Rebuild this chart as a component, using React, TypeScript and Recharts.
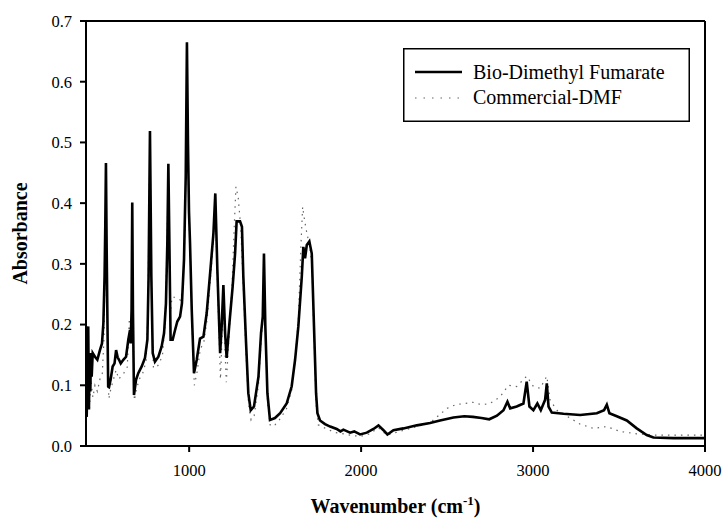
import { LineChart, Line, XAxis, YAxis, Legend, ReferenceLine } from "recharts";

// FTIR spectra
const bioWavenumber = [
  404, 409, 413, 417, 421, 425, 429, 433, 439, 452, 466, 481, 493, 501, 508, 512, 516, 520, 524, 529,
  534, 543, 555, 566, 575, 584, 592, 602, 617, 633, 646, 656, 660, 665, 669, 673, 679, 691, 704, 724,
  743, 757, 764, 768, 772, 776, 780, 788, 801, 821, 840, 854, 865, 873, 879, 885, 892, 904, 918, 931,
  947, 958, 970, 980, 987, 993, 999, 1005, 1015, 1028, 1044, 1063, 1083, 1102, 1125, 1141, 1152, 1164, 1180, 1189,
  1199, 1209, 1218, 1234, 1253, 1267, 1276, 1296, 1307, 1315, 1331, 1344, 1358, 1377, 1403, 1418, 1428, 1435, 1443, 1455,
  1470, 1499, 1529, 1567, 1596, 1616, 1635, 1655, 1664, 1674, 1684, 1699, 1713, 1726, 1738, 1746, 1761, 1790, 1820, 1858,
  1880, 1897, 1936, 1960, 1994, 2033, 2072, 2101, 2130, 2153, 2188, 2246, 2324, 2401, 2459, 2537, 2600, 2650, 2700, 2745,
  2790, 2828, 2851, 2867, 2905, 2944, 2963, 2979, 3002, 3025, 3045, 3070, 3080, 3090, 3109, 3177, 3274, 3371, 3413, 3429,
  3444, 3487, 3545, 3603, 3661, 3700, 3817, 3900, 4000,
];
const bioAbsorbance = [
  0.048, 0.12, 0.197, 0.06, 0.15, 0.09, 0.153, 0.114, 0.153, 0.147, 0.142, 0.158, 0.169, 0.202, 0.279, 0.36, 0.466, 0.33, 0.224, 0.098,
  0.097, 0.109, 0.131, 0.136, 0.158, 0.146, 0.142, 0.136, 0.142, 0.147, 0.175, 0.191, 0.169, 0.224, 0.401, 0.224, 0.084, 0.109, 0.12, 0.131,
  0.145, 0.175, 0.279, 0.4, 0.519, 0.4, 0.279, 0.153, 0.139, 0.147, 0.164, 0.186, 0.235, 0.334, 0.465, 0.334, 0.175, 0.175, 0.191, 0.205,
  0.213, 0.235, 0.307, 0.444, 0.665, 0.5, 0.386, 0.334, 0.224, 0.12, 0.142, 0.177, 0.18, 0.219, 0.295, 0.35, 0.416, 0.29, 0.153, 0.197,
  0.265, 0.186, 0.145, 0.202, 0.263, 0.317, 0.37, 0.37, 0.361, 0.279, 0.169, 0.087, 0.059, 0.065, 0.114, 0.186, 0.213, 0.317, 0.197, 0.087,
  0.043, 0.046, 0.054, 0.07, 0.098, 0.142, 0.197, 0.279, 0.328, 0.309, 0.331, 0.337, 0.317, 0.197, 0.087, 0.054, 0.042, 0.036, 0.032, 0.028,
  0.024, 0.027, 0.022, 0.024, 0.019, 0.022, 0.028, 0.034, 0.026, 0.019, 0.026, 0.029, 0.034, 0.038, 0.042, 0.047, 0.049, 0.048, 0.046, 0.044,
  0.05, 0.059, 0.073, 0.062, 0.065, 0.07, 0.106, 0.065, 0.059, 0.07, 0.059, 0.076, 0.103, 0.065, 0.055, 0.053, 0.051, 0.054, 0.059, 0.068,
  0.054, 0.049, 0.042, 0.029, 0.018, 0.014, 0.013, 0.013, 0.013,
];

const dmfWavenumber = [
  404, 410, 415, 420, 428, 440, 452, 466, 481, 495, 505, 512, 516, 521, 527, 533, 545, 560, 575, 590,
  605, 620, 640, 652, 660, 665, 669, 674, 681, 695, 710, 730, 750, 760, 766, 772, 777, 783, 792, 805,
  825, 845, 860, 870, 879, 885, 892, 900, 915, 935, 950, 962, 972, 980, 987, 993, 1000, 1008, 1018, 1030,
  1045, 1065, 1085, 1105, 1125, 1141, 1152, 1164, 1182, 1190, 1199, 1208, 1216, 1234, 1250, 1262, 1272, 1285, 1300, 1315,
  1331, 1345, 1360, 1378, 1403, 1420, 1430, 1436, 1444, 1456, 1472, 1500, 1530, 1567, 1596, 1616, 1635, 1650, 1660, 1672,
  1685, 1700, 1714, 1726, 1738, 1750, 1800, 1850, 1900, 1950, 2000, 2050, 2100, 2150, 2200, 2300, 2400, 2450, 2500, 2550,
  2600, 2650, 2700, 2750, 2808, 2857, 2905, 2963, 3002, 3041, 3080, 3099, 3138, 3215, 3274, 3351, 3429, 3506, 3603, 3700,
  3855, 4000,
];
const dmfAbsorbance = [
  0.06, 0.1, 0.15, 0.06, 0.11, 0.08, 0.1, 0.09, 0.11, 0.12, 0.18, 0.33, 0.44, 0.3, 0.12, 0.078, 0.095, 0.11, 0.125, 0.11,
  0.115, 0.12, 0.13, 0.21, 0.17, 0.21, 0.37, 0.2, 0.075, 0.095, 0.11, 0.12, 0.14, 0.22, 0.38, 0.5, 0.38, 0.22, 0.13, 0.128,
  0.135, 0.15, 0.2, 0.32, 0.45, 0.32, 0.22, 0.245, 0.245, 0.243, 0.24, 0.26, 0.32, 0.44, 0.64, 0.48, 0.37, 0.3, 0.19, 0.1,
  0.12, 0.16, 0.17, 0.21, 0.28, 0.34, 0.4, 0.27, 0.11, 0.17, 0.25, 0.16, 0.105, 0.19, 0.27, 0.36, 0.427, 0.41, 0.36, 0.26,
  0.15, 0.07, 0.043, 0.05, 0.1, 0.18, 0.21, 0.31, 0.18, 0.07, 0.033, 0.035, 0.045, 0.062, 0.092, 0.14, 0.21, 0.33, 0.394, 0.37,
  0.35, 0.33, 0.3, 0.18, 0.07, 0.035, 0.028, 0.022, 0.02, 0.017, 0.016, 0.02, 0.03, 0.018, 0.022, 0.03, 0.038, 0.05, 0.062, 0.068,
  0.07, 0.072, 0.068, 0.07, 0.081, 0.1, 0.098, 0.115, 0.098, 0.095, 0.115, 0.076, 0.059, 0.046, 0.036, 0.029, 0.032, 0.024, 0.02, 0.018,
  0.018, 0.018,
];

const xTicks = [1000, 2000, 3000, 4000];
const yTicks = [0, 0.1, 0.2, 0.3, 0.4, 0.5, 0.6, 0.7];

const bioLabel = "Bio-Dimethyl Fumarate";
const dmfLabel = "Commercial-DMF";

const bioData = bioWavenumber.map((x, i) => ({ x, y: bioAbsorbance[i] }));
const dmfData = dmfWavenumber.map((x, i) => ({ x, y: dmfAbsorbance[i] }));

const FONT = '"Liberation Serif", "Times New Roman", serif';

const XTitle = ({ viewBox }: any) => {
  const cx = viewBox.x + viewBox.width / 2;
  return (
    <text x={cx} y={505} textAnchor="middle" fontFamily={FONT} fontSize={20} fontWeight="bold" fill="#000">
      <tspan>Wavenumber (cm</tspan>
      <tspan dy={-8} fontSize={13}>-1</tspan>
      <tspan dy={8}>)</tspan>
    </text>
  );
};

const YTitle = ({ viewBox }: any) => {
  const cy = viewBox.y + viewBox.height / 2;
  return (
    <text
      x={12}
      y={cy}
      transform={`rotate(-90, 12, ${cy})`}
      textAnchor="middle"
      dominantBaseline="central"
      fontFamily={FONT}
      fontSize={20}
      fontWeight="bold"
      fill="#000"
    >
      Absorbance
    </text>
  );
};

const renderLegend = () => (
  <svg width={287} height={74} style={{ display: "block" }}>
    <rect x={0.75} y={0.75} width={285.5} height={72.5} fill="#fff" stroke="#000" strokeWidth={1.5} />
    <line x1={12} x2={59} y1={24} y2={24} stroke="#000" strokeWidth={2.5} />
    <text x={70} y={31} fontFamily={FONT} fontSize={20} fill="#000">{bioLabel}</text>
    <line x1={12} x2={59} y1={50} y2={50} stroke="#666" strokeWidth={1.2} strokeDasharray="1.5 7" />
    <text x={70} y={56} fontFamily={FONT} fontSize={20} fill="#000">{dmfLabel}</text>
  </svg>
);

export default function App() {
  return (
    <div style={{ width: 724, height: 518, padding: 8, boxSizing: "border-box", background: "#fff" }}>
      <style>{"body { margin: 0; }"}</style>
      <LineChart width={716} height={510} margin={{ top: 13, right: 19, bottom: 22, left: 0 }}>
        <XAxis
          dataKey="x"
          type="number"
          domain={[400, 4000]}
          ticks={xTicks}
          allowDataOverflow
          height={50}
          tickSize={6}
          tickMargin={12}
          stroke="#000"
          strokeWidth={2}
          tick={{ fill: "#000", fontFamily: FONT, fontSize: 16.5 }}
          label={{ content: XTitle }}
        />
        <YAxis
          dataKey="y"
          type="number"
          domain={[0, 0.7]}
          ticks={yTicks}
          allowDataOverflow
          width={78}
          tickSize={6}
          tickMargin={8}
          stroke="#000"
          strokeWidth={2}
          tickFormatter={(v: number) => v.toFixed(1)}
          tick={{ fill: "#000", fontFamily: FONT, fontSize: 16.5 }}
          label={{ content: YTitle }}
        />
        <ReferenceLine y={0.7} stroke="#000" strokeWidth={2} />
        <ReferenceLine x={4000} stroke="#000" strokeWidth={2} />
        <Line
          data={dmfData}
          dataKey="y"
          name={dmfLabel}
          type="linear"
          stroke="#666"
          strokeWidth={1.2}
          strokeDasharray="1.5 5"
          dot={false}
          isAnimationActive={false}
        />
        <Line
          data={bioData}
          dataKey="y"
          name={bioLabel}
          type="linear"
          stroke="#000"
          strokeWidth={2.6}
          dot={false}
          isAnimationActive={false}
        />
        <Legend
          layout="horizontal"
          align="center"
          verticalAlign="middle"
          content={renderLegend}
          wrapperStyle={{ left: 395, top: 40, width: 287, height: 74 }}
        />
      </LineChart>
    </div>
  );
}
